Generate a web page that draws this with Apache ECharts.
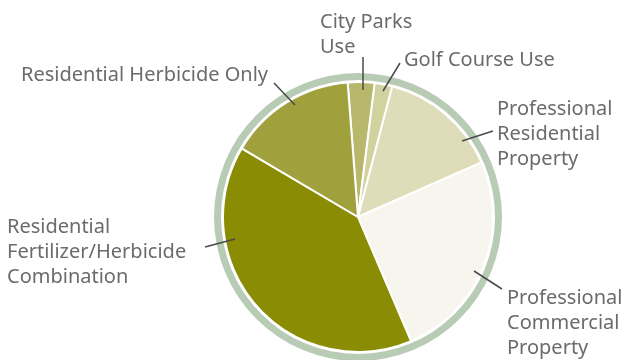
<!DOCTYPE html>
<html>
<head>
<meta charset="utf-8">
<script src="https://cdn.jsdelivr.net/npm/echarts@6/dist/echarts.min.js"></script>
<style>
html,body{margin:0;padding:0;background:#fff;}
#main{width:629px;height:360px;}
</style>
</head>
<body>
<div id="main"></div>
<script>
// 数据
var categories = ['City Parks\nUse', 'Golf Course Use', 'Professional\nResidential\nProperty', 'Professional\nCommercial\nProperty', 'Residential\nFertilizer/Herbicide\nCombination', 'Residential Herbicide Only'];
var values = [3.2, 2.1, 14.3, 25.2, 39.9, 15.3];
var colors = ['#b8b86c', '#d2d29e', '#dfdcb9', '#f6f5ee', '#8a8c03', '#a0a13d'];

// 标签位置 (x, y 文字左上角; line 引线)
var labelPos = [
	{x: 320, y: 10, line: [[363, 90], [363, 57]]},
	{x: 404, y: 48, line: [[383, 91], [400, 63]]},
	{x: 497, y: 97, line: [[462, 141], [493, 131]]},
	{x: 507, y: 286, line: [[474, 271], [502, 289]]},
	{x: 7, y: 215, line: [[235, 239], [205, 247]]},
	{x: 21, y: 63, line: [[295, 105], [274, 83]]}
];

var chart = echarts.init(document.getElementById('main'));
var pieData = [];
for (var i = 0; i < categories.length; i++) {
	pieData.push({name: categories[i], value: values[i], itemStyle: {color: colors[i]}});
}
// 引线
var leaderLines = [];
for (var j = 0; j < labelPos.length; j++) {
	leaderLines.push({
		type: 'polyline',
		z: 100,
		silent: true,
		shape: {points: labelPos[j].line},
		style: {stroke: '#4a4a4a', lineWidth: 1.5, fill: null}
	});
}
var option = {
	animation: false,
	graphic: leaderLines,
	series: [
		{
			type: 'pie',
			silent: true,
			center: [358, 217],
			radius: [137, 144],
			label: {show: false},
			labelLine: {show: false},
			itemStyle: {color: '#b8cbb4'},
			data: [{name: 'ring', value: 1}]
		},
		{
			type: 'pie',
			center: [358, 217],
			radius: [0, 135],
			startAngle: 94.4,
			clockwise: true,
			itemStyle: {borderColor: '#fff', borderWidth: 2},
			label: {
				show: true,
				color: '#6b6b6b',
				fontFamily: 'Noto Sans',
				fontSize: 20,
				lineHeight: 25,
				overflow: 'none'
			},
			labelLine: {show: false},
			labelLayout: function (params) {
				var p = labelPos[params.dataIndex];
				return {
					x: p.x,
					y: p.y,
					align: 'left',
					verticalAlign: 'top'
				};
			},
			data: pieData
		}
	]
};
chart.setOption(option);
</script>
</body>
</html>
